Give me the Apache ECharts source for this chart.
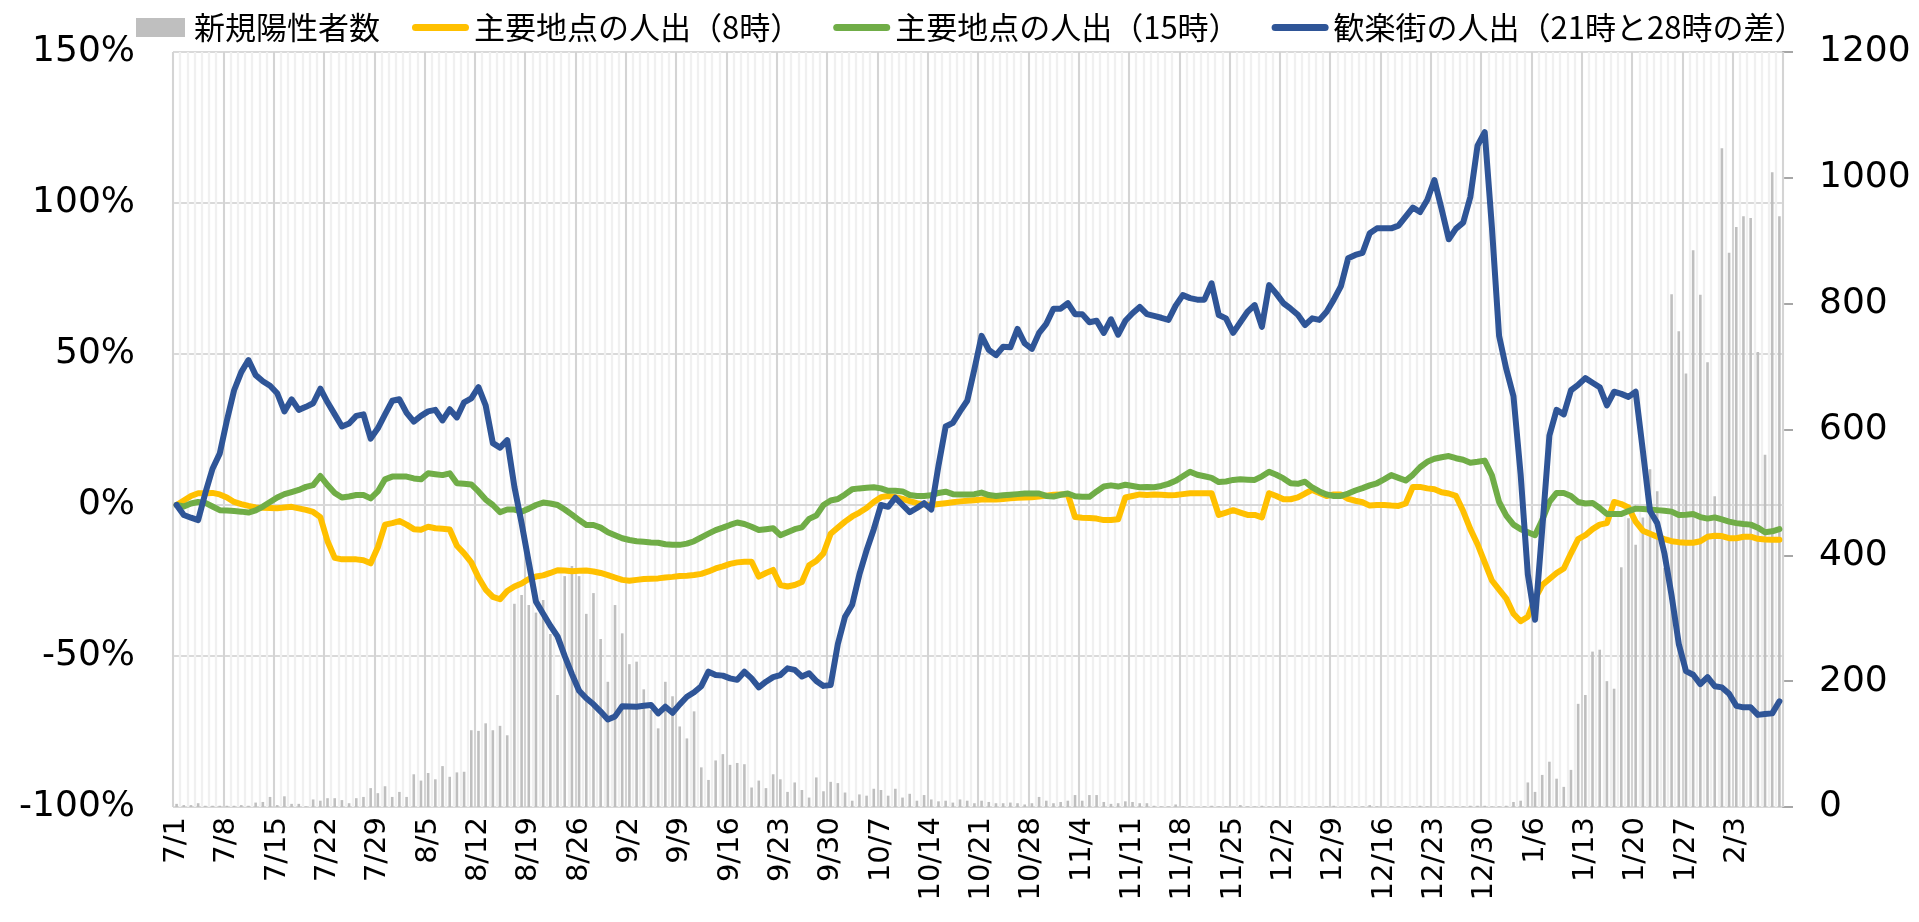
<!DOCTYPE html>
<html>
<head>
<meta charset="utf-8">
<script src="https://cdn.jsdelivr.net/npm/echarts@6/dist/echarts.min.js"></script>
<style>
html,body{margin:0;padding:0;background:#fff;}
#chart{width:1919px;height:922px;}
</style>
</head>
<body>
<div id="chart"></div>
<script>
// Month / number of days shown (7/1 .. 2/9)
const MONTH_SPANS = [[7,31],[8,31],[9,30],[10,31],[11,30],[12,31],[1,31],[2,9]];
const categories = [];
MONTH_SPANS.forEach(([m, n]) => { for (let d = 1; d <= n; d++) categories.push(m + '/' + d); });

const SERIES_NAMES = ['新規陽性者数', '主要地点の人出（8時）', '主要地点の人出（15時）', '歓楽街の人出（21時と28時の差）'];

// 新規陽性者数 (right axis)
const newCases = [
  5,3,3,6,2,2,2,2,2,3,2,7,8,16,3,17,5,5,1,12,10,14,14,11,6,14,16,30,22,33,16,24,16,52,42,54,44,65,48,55,56,122,121,133,122,129,114,
  323,337,321,309,329,275,178,367,383,367,307,340,267,199,321,276,227,231,187,154,125,199,176,128,109,152,63,43,74,84,67,70,68,31,42,30,52,44,24,39,27,15,47,25,40,38,
  23,10,20,18,29,27,18,29,15,21,10,19,12,9,10,7,12,10,6,10,8,6,6,7,6,4,6,16,10,6,8,10,19,10,19,19,8,5,6,9,8,6,6,
  2,1,1,4,1,1,0,1,2,1,1,0,3,1,1,2,1,1,0,1,1,1,0,1,1,2,0,1,1,1,3,1,0,1,1,1,1,2,1,0,1,1,1,1,2,2,
  2,1,1,2,8,10,39,24,51,72,45,32,59,164,178,247,250,200,188,381,459,417,460,537,502,380,815,756,689,885,814,707,494,1047,881,922,939,936,723,560,1009,939
];

// 主要地点の人出（8時） (%)
const main8 = [
  0,1.5,3,3.9,3.9,4,3.5,2.5,1,0.3,-0.3,-0.8,-0.9,-1,-1.1,-0.8,-0.6,-1.1,-1.6,-2.3,-4,-12,-17.5,-18,-18,-18,-18.3,-19.3,-14,-6.5,
  -6,-5.3,-6.5,-8,-8.2,-7.2,-7.7,-7.9,-8.1,-13.5,-16,-19,-24,-28,-30.4,-31.2,-28.5,-27,-26,-24.5,-23.7,-23.3,-22.5,-21.6,-21.7,-21.9,-21.8,-21.7,-22,-22.5,
  -23.2,-24,-24.8,-25.1,-24.8,-24.5,-24.4,-24.3,-24,-23.8,-23.5,-23.4,-23.2,-22.8,-22,-21,-20.3,-19.5,-19,-18.8,-18.8,-23.7,-22.5,-21.5,-26.5,-27,-26.5,-25.5,-20,-18.5,
  -16,-9.5,-7.5,-5.5,-3.8,-2.5,-1,1,2.6,3,2.6,2,1.3,0.6,0.2,0,0.3,0.6,0.9,1.2,1.4,1.6,1.8,1.8,1.8,2,2.2,2.4,2.5,2.6,
  2.8,3.1,3.4,3.5,3.5,-4,-4.2,-4.3,-4.5,-5,-5,-4.7,2.5,3,3.5,3.3,3.5,3.4,3.2,3.3,3.6,3.9,3.9,3.9,3.9,-3.3,-2.5,-1.7,-2.5,-3.3,
  -3.3,-4.1,3.9,3,1.9,1.9,2.5,3.8,5,4,3,3.5,3.5,2,1.4,0.9,-0.2,0,0,-0.2,-0.3,0.5,6,6,5.5,5.2,4.2,3.8,3,-2,
  -8,-13,-19,-25,-28,-31,-36,-38.5,-37,-31,-26.5,-24.5,-22.5,-21,-16,-11.3,-10,-8,-6.5,-6,1,0.3,-0.8,-5.5,-8.5,-9.5,-10.5,-11.3,-12,-12.3,
  -12.5,-12.5,-12,-10.5,-10.2,-10.3,-11,-11,-10.5,-10.5,-11.2,-11.4,-11.5,-11.5
];

// 主要地点の人出（15時） (%)
const main15 = [
  0,-0.5,0.5,1,0.7,-0.5,-1.7,-1.8,-2,-2.2,-2.5,-1.8,-0.5,1,2.5,3.6,4.3,5,6,6.6,9.6,6.6,4,2.5,2.8,3.3,3.3,2.2,4.5,8.5,
  9.4,9.4,9.4,8.8,8.5,10.5,10.2,9.9,10.5,7.2,7,6.8,4.5,1.8,0,-2.4,-1.5,-1.5,-2.2,-1.2,0,0.8,0.5,0,-1.5,-3.2,-5,-6.6,-6.6,-7.5,
  -9,-10,-11,-11.6,-12,-12.2,-12.4,-12.5,-13,-13.2,-13.2,-12.8,-12,-10.7,-9.5,-8.3,-7.5,-6.6,-5.8,-6.3,-7.2,-8.3,-8,-7.7,-10,-9,-8,-7.4,-4.6,-3.5,
  0,1.5,2,3.5,5.2,5.5,5.7,5.9,5.5,4.7,4.7,4.5,3.3,3,3,3.2,4,4.4,3.6,3.5,3.5,3.6,4.1,3.3,3,3.2,3.4,3.6,3.8,3.8,
  3.8,3,2.8,3.4,3.8,2.9,2.7,2.7,4.5,6.1,6.5,6.1,6.7,6.3,5.9,6,5.9,6.3,7,8,9.5,11,10,9.5,9,7.6,7.8,8.3,8.5,8.4,
  8.3,9.5,11,10,8.8,7.2,7,7.7,5.8,4.5,3.5,3,3,3.8,4.8,5.6,6.5,7.2,8.5,9.9,9,8.1,10,12.5,14.3,15.3,15.8,16.2,15.5,15,
  14,14.3,14.7,9.8,1,-3.5,-6.5,-8,-9,-10,-5,1,4,4,3,1,0.5,0.7,-1,-3,-3,-3,-2,-1.2,-1.3,-1.5,-1.7,-1.9,-2.2,-3.3,
  -3.2,-3,-4,-4.5,-4.1,-4.8,-5.5,-6,-6.3,-6.5,-7.5,-9,-8.7,-8
];

// 歓楽街の人出（21時と28時の差） (%)
const nightlife = [
  0,-3.3,-4.2,-5,4,12,17,28,38,44,48,43,41,39.5,37,31,35,31.5,32.5,33.7,38.5,34,30,26,27,29.5,30,22,25.4,30,
  34.5,35,30.5,27.6,29.5,31,31.5,28,31.7,29,34,35.3,39,33,20.5,19,21.5,6,-6,-19,-32,-36,-40,-43.5,-50,-56,-61.5,-64,-66,-68.4,
  -71,-70,-66.6,-66.7,-66.8,-66.5,-66.2,-69,-66.8,-68.8,-66,-63.5,-62,-60,-55.2,-56.3,-56.5,-57.4,-57.9,-55.2,-57.4,-60.4,-58.5,-57,-56.3,-54.1,-54.6,-56.8,-55.7,-58.3,
  -59.9,-59.6,-46,-37,-33,-23,-15,-8,0,-0.6,2.4,0,-2.4,-1,0.6,-1.5,13,26,27.2,31,34.5,45,56,51.4,49.6,52.4,52.2,58.3,53.5,51.7,
  57,60,65,65,66.8,63.2,63.2,60.5,61,57,61.5,56.4,61,63.5,65.6,63.2,62.6,62,61.3,66,69.5,68.5,68,68,73.4,62.9,61.8,57,60.5,64,
  66.2,59,72.8,70,66.8,65,63,59.6,61.8,61.3,64,68,72.5,81.7,82.8,83.5,90,91.6,91.6,91.6,92.5,95.5,98.5,97,101,107.6,98,88,91.5,93.5,
  102,119,123.5,92,56,45,36,10,-23,-38,-8,23,31.5,30,38,39.8,42,40.5,39,33,37.5,36.8,35.8,37.5,18,-2,-6,-16,-30,-46,
  -55,-56.2,-59.3,-57,-60,-60.4,-62.5,-66.5,-67,-67,-69.5,-69.2,-69,-65
];

const LEFT_TICKS = { min: -100, max: 150, interval: 50 };
const RIGHT_TICKS = { min: 0, max: 1200, interval: 200 };

const chart = echarts.init(document.getElementById('chart'), null, { renderer: 'canvas' });
const numFont = 'DejaVu Sans';
const jpFont = '"Noto Sans CJK JP", "Noto Sans", sans-serif';

// legend icons (box 57 x 19): grey block, and rounded thick line
const BAR_ICON = 'path://M0,0 M57,19 M4,0 L53,0 L53,19 L4,19 Z';
const LINE_ICON = 'path://M0,0 M57,19 M3.5,6 L53.5,6 A3.5,3.5 0 0 1 53.5,13 L3.5,13 A3.5,3.5 0 0 1 3.5,6 Z';

chart.setOption({
  animation: false,
  backgroundColor: '#ffffff',
  legend: {
    left: 132,
    top: 12,
    padding: 0,
    itemWidth: 57,
    itemHeight: 19,
    itemGap: 32,
    textStyle: { fontFamily: jpFont, fontSize: 31, color: '#000' },
    data: [
      { name: SERIES_NAMES[0], icon: BAR_ICON },
      { name: SERIES_NAMES[1], icon: LINE_ICON },
      { name: SERIES_NAMES[2], icon: LINE_ICON },
      { name: SERIES_NAMES[3], icon: LINE_ICON }
    ]
  },
  grid: { left: 173, right: 136, top: 52, bottom: 115, containLabel: false },
  xAxis: [
    {
      type: 'category',
      data: categories,
      z: 1,
      axisLine: { show: true, lineStyle: { color: '#d9d9d9', width: 2 } },
      axisTick: { show: false },
      axisLabel: {
        interval: 6, rotate: 90, margin: 10,
        fontFamily: numFont, fontSize: 29, color: '#000'
      },
      splitLine: { show: true, interval: 0, lineStyle: { color: '#f0f0f0', width: 2.3 } }
    },
    {
      type: 'category',
      data: categories,
      position: 'bottom',
      z: 1,
      axisLine: { show: false },
      axisTick: { show: false },
      axisLabel: { show: false },
      splitLine: { show: true, interval: 6, lineStyle: { color: '#d4d4d4', width: 2 } }
    }
  ],
  yAxis: [
    {
      type: 'value',
      min: LEFT_TICKS.min, max: LEFT_TICKS.max, interval: LEFT_TICKS.interval,
      z: 0,
      axisLine: { show: false },
      axisTick: { show: false },
      axisLabel: { formatter: '{value}%', margin: 38, fontFamily: numFont, fontSize: 36, color: '#000' },
      splitLine: { show: true, lineStyle: { color: '#d9d9d9', width: 2 } }
    },
    {
      type: 'value',
      min: RIGHT_TICKS.min, max: RIGHT_TICKS.max, interval: RIGHT_TICKS.interval,
      position: 'right',
      z: 0,
      axisLine: { show: true, lineStyle: { color: '#a6a6a6', width: 2 } },
      axisTick: { show: true, length: 10, lineStyle: { color: '#a6a6a6', width: 2 } },
      axisLabel: { margin: 36, fontFamily: numFont, fontSize: 36, color: '#000', formatter: (v) => String(v) },
      splitLine: { show: false }
    }
  ],
  series: [
    {
      name: SERIES_NAMES[0], type: 'bar', xAxisIndex: 0, yAxisIndex: 1,
      data: newCases, barWidth: 2.6, itemStyle: { color: '#bfbfbf' }, z: 2
    },
    {
      name: SERIES_NAMES[1], type: 'line', xAxisIndex: 0, yAxisIndex: 0,
      data: main8, symbol: 'none', showSymbol: false, z: 3,
      itemStyle: { color: '#ffc000' },
      lineStyle: { color: '#ffc000', width: 6, cap: 'round', join: 'round' }
    },
    {
      name: SERIES_NAMES[2], type: 'line', xAxisIndex: 0, yAxisIndex: 0,
      data: main15, symbol: 'none', showSymbol: false, z: 4,
      itemStyle: { color: '#70ad47' },
      lineStyle: { color: '#70ad47', width: 6, cap: 'round', join: 'round' }
    },
    {
      name: SERIES_NAMES[3], type: 'line', xAxisIndex: 0, yAxisIndex: 0,
      data: nightlife, symbol: 'none', showSymbol: false, z: 5,
      itemStyle: { color: '#2f5597' },
      lineStyle: { color: '#2f5597', width: 6, cap: 'round', join: 'round' }
    }
  ]
});
</script>
</body>
</html>
